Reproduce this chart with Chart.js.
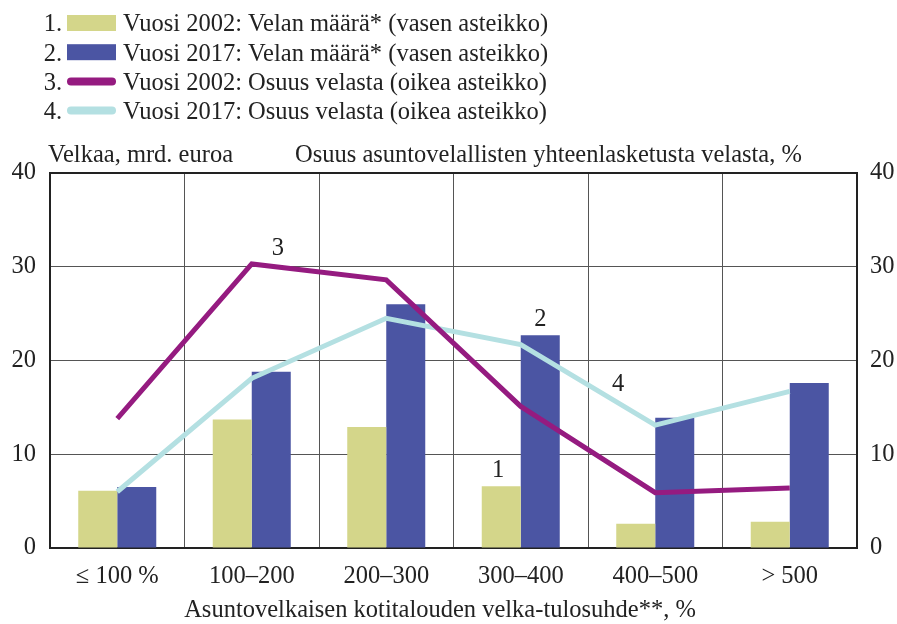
<!DOCTYPE html>
<html>
<head>
<meta charset="utf-8">
<script src="https://cdn.jsdelivr.net/npm/chart.js@4/dist/chart.umd.min.js"></script>
<style>
  body { margin: 0; background: #fff; }
  canvas { display: block; }
</style>
</head>
<body>
<canvas id="velka" width="897" height="624"></canvas>
<script>
const categories = ['≤ 100 %', '100–200', '200–300', '300–400', '400–500', '> 500']
const debt2002 = [6.1, 13.7, 12.9, 6.6, 2.6, 2.8]
const debt2017 = [6.5, 18.8, 26.0, 22.7, 13.9, 17.6]
const share2002 = [13.8, 30.3, 28.6, 15.1, 5.9, 6.4]
const share2017 = [6.0, 18.1, 24.5, 21.7, 13.1, 16.7]
const legendLabels = [
  'Vuosi 2002: Velan määrä* (vasen asteikko)',
  'Vuosi 2017: Velan määrä* (vasen asteikko)',
  'Vuosi 2002: Osuus velasta (oikea asteikko)',
  'Vuosi 2017: Osuus velasta (oikea asteikko)'
]
const yTicks = [0, 10, 20, 30, 40]

const FONT = "'Liberation Serif', serif"
const FS = 24.5
const TEXT = '#222'

const extras = {
  id: 'extras',
  beforeDatasetsDraw(chart) {
    const { ctx, chartArea: a } = chart
    ctx.save()
    ctx.strokeStyle = '#222'
    ctx.lineWidth = 2
    ctx.strokeRect(a.left, a.top, a.right - a.left, a.bottom - a.top)
    ctx.restore()
  },
  afterDraw(chart) {
    const { ctx } = chart
    ctx.save()
    ctx.fillStyle = TEXT
    ctx.font = FS + 'px ' + FONT
    ctx.textBaseline = 'middle'
    ctx.textAlign = 'left'
    ctx.fillText('Velkaa, mrd. euroa', 48, 156)
    ctx.fillText('Osuus asuntovelallisten yhteenlasketusta velasta, %', 295, 156)
    ctx.textAlign = 'center'
    ctx.fillText('Asuntovelkaisen kotitalouden velka-tulosuhde**, %', 440, 611)

    // legend
    const rows = [23, 52.2, 81.4, 110.6]
    chart.data.datasets.forEach((ds, i) => {
      const y = rows[i]
      ctx.textAlign = 'right'
      ctx.fillStyle = TEXT
      ctx.fillText((i + 1) + '.', 62, y + 2)
      ctx.fillStyle = ds.type === 'line' ? ds.borderColor : ds.backgroundColor
      if (ds.type === 'line') {
        ctx.beginPath()
        ctx.roundRect(67, y - 4, 49, 8, 4)
        ctx.fill()
      } else {
        ctx.fillRect(67, y - 8, 49, 16)
      }
      ctx.textAlign = 'left'
      ctx.fillStyle = TEXT
      ctx.fillText(legendLabels[i], 123, y + 2)
    })

    // numbered markers in the plot
    const m0 = chart.getDatasetMeta(0).data
    const m1 = chart.getDatasetMeta(1).data
    const m2 = chart.getDatasetMeta(2).data
    const m3 = chart.getDatasetMeta(3).data
    ctx.textAlign = 'center'
    ctx.fillText('1', m0[3].x - 3, m0[3].y - 16)
    ctx.fillText('2', m1[3].x, m1[3].y - 16)
    ctx.fillText('3', m2[1].x + 26, m2[1].y - 15)
    ctx.fillText('4', (m3[3].x + m3[4].x) / 2 + 30, (m3[3].y + m3[4].y) / 2)
    ctx.restore()
  }
}

new Chart(document.getElementById('velka'), {
  type: 'bar',
  data: {
    labels: categories,
    datasets: [
      { type: 'bar', label: legendLabels[0], data: debt2002, backgroundColor: '#d4d68a', yAxisID: 'y', order: 2,
        categoryPercentage: 0.58, barPercentage: 1.0 },
      { type: 'bar', label: legendLabels[1], data: debt2017, backgroundColor: '#4b55a3', yAxisID: 'y', order: 3,
        categoryPercentage: 0.58, barPercentage: 1.0 },
      { type: 'line', label: legendLabels[2], data: share2002, borderColor: '#951b80', borderWidth: 5,
        pointRadius: 0, yAxisID: 'y2', order: 0, tension: 0, borderJoinStyle: 'miter' },
      { type: 'line', label: legendLabels[3], data: share2017, borderColor: '#b4e0e2', borderWidth: 5,
        pointRadius: 0, yAxisID: 'y2', order: 1, tension: 0, borderJoinStyle: 'miter' }
    ]
  },
  options: {
    responsive: false,
    animation: false,
    layout: { padding: { top: 173, left: 0, right: 0, bottom: 0 } },
    plugins: { legend: { display: false }, tooltip: { enabled: false } },
    scales: {
      x: {
        offset: true,
        grid: { offset: true, color: '#555', lineWidth: 1, drawTicks: false },
        border: { display: false },
        ticks: { color: TEXT, font: { family: FONT, size: FS }, padding: 14, maxRotation: 0 },
        afterFit: (s) => { s.height = 76 }
      },
      y: {
        position: 'left',
        min: 0, max: 40,
        afterBuildTicks: (s) => { s.ticks = yTicks.map(v => ({ value: v })) },
        grid: { color: '#555', lineWidth: 1, drawTicks: false },
        border: { display: false },
        ticks: { color: TEXT, font: { family: FONT, size: FS }, padding: 14 },
        afterFit: (s) => { s.width = 50 }
      },
      y2: {
        position: 'right',
        min: 0, max: 40,
        afterBuildTicks: (s) => { s.ticks = yTicks.map(v => ({ value: v })) },
        grid: { display: false, drawTicks: false },
        border: { display: false },
        ticks: { color: TEXT, font: { family: FONT, size: FS }, padding: 13 },
        afterFit: (s) => { s.width = 40 }
      }
    }
  },
  plugins: [extras]
})
</script>
</body>
</html>
